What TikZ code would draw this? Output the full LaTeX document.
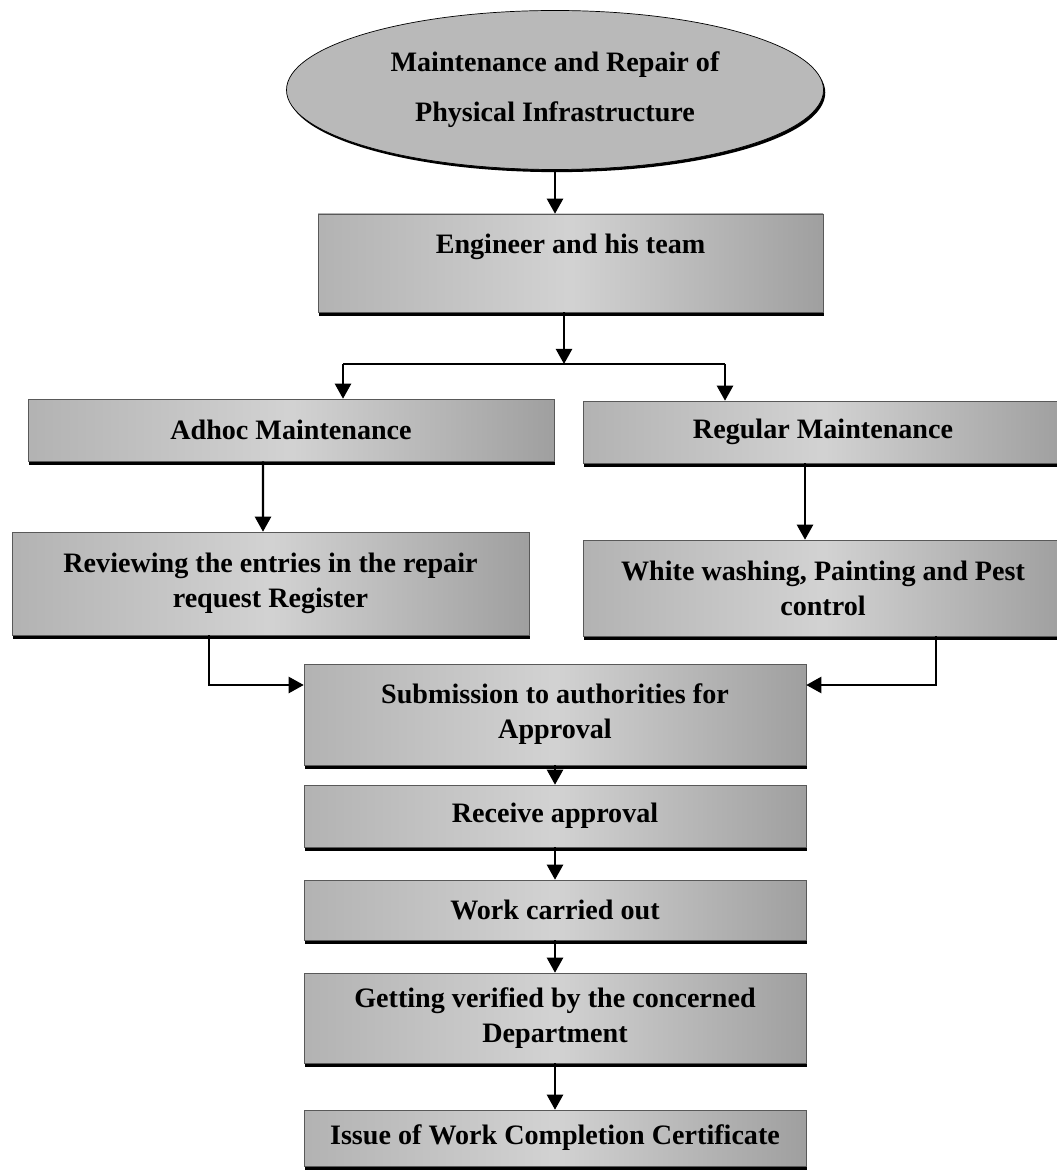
\documentclass[tikz,border=0pt]{standalone}
\usepackage{fontspec}
\setmainfont{Liberation Serif}
\usetikzlibrary{shapes.geometric,arrows.meta,shadows}
\tikzset{
  stepbox/.style={rectangle, draw=gray!70!black, line width=0.3pt, inner sep=0pt,
    left color=gray!60, right color=gray!75, middle color=gray!35,
    drop shadow={shadow xshift=0.4pt, shadow yshift=-2pt, fill=black, opacity=1},
    align=center, font=\bfseries\fontsize{16}{20}\selectfont},
  link/.style={line width=1.3pt, -{Triangle[width=0.32cm,length=0.3cm]}}
}
\begin{document}
\begin{tikzpicture}
\path[use as bounding box, fill=white] (0,0) rectangle (21.14,-23.42);

\node[ellipse, draw, line width=0.4pt, fill=gray!55, inner sep=0pt, minimum width=10.74cm, minimum height=3.18cm,
  drop shadow={shadow xshift=1pt, shadow yshift=-1.5pt, fill=black, opacity=1},
  align=center, font=\bfseries\fontsize{16}{28.5}\selectfont] (infra) at (11.1,-1.8) {Maintenance and Repair of\\Physical Infrastructure};

\node[stepbox, minimum width=10.1cm, minimum height=1.96cm, text depth=0.76cm] (team) at (11.41,-5.26) {Engineer and his team};
\node[stepbox, minimum width=10.52cm, minimum height=1.24cm] (adhoc) at (5.82,-8.6) {Adhoc Maintenance};
\node[stepbox, minimum width=9.6cm, minimum height=1.24cm] (regular) at (16.46,-8.64) {Regular Maintenance};
\node[stepbox, minimum width=10.34cm, minimum height=2.06cm] (review) at (5.41,-11.67) {Reviewing the entries in the repair\\request Register};
\node[stepbox, minimum width=9.6cm, minimum height=1.92cm] (white) at (16.46,-11.76) {White washing, Painting and Pest\\control};
\node[stepbox, minimum width=10.04cm, minimum height=2.02cm] (submit) at (11.1,-14.29) {Submission to authorities for\\Approval};
\node[stepbox, minimum width=10.04cm, minimum height=1.24cm] (receive) at (11.1,-16.32) {Receive approval};
\node[stepbox, minimum width=10.04cm, minimum height=1.2cm] (work) at (11.1,-18.2) {Work carried out};
\node[stepbox, minimum width=10.04cm, minimum height=1.8cm] (verify) at (11.1,-20.36) {Getting verified by the concerned\\Department};
\node[stepbox, minimum width=10.04cm, minimum height=1.12cm] (issue) at (11.1,-22.76) {Issue of Work Completion Certificate};

\coordinate (split) at (11.28,-7.28);
\coordinate (splitL) at (6.86,-7.28);
\coordinate (splitR) at (14.5,-7.28);

\draw[link] (infra.south) -- (infra.south |- team.north);
\draw[link] (team.south -| split) -- (split);
\draw[line width=1.3pt] (splitL) -- (splitR);
\draw[link] (splitL) -- (splitL |- adhoc.north);
\draw[link] (splitR) -- (splitR |- regular.north);
\draw[link] ([xshift=-0.56cm]adhoc.south) -- ([xshift=-0.15cm]review.north);
\draw[link] ([xshift=-0.36cm]regular.south) -- ([xshift=-0.36cm]white.north);
\draw[link] ([xshift=-1.23cm]review.south) |- ([yshift=0.59cm]submit.west);
\draw[link] ([xshift=2.26cm]white.south) |- ([yshift=0.59cm]submit.east);
\foreach \a/\b in {submit/receive, receive/work, work/verify, verify/issue}
  \draw[link] (\a) -- (\b);
\end{tikzpicture}
\end{document}
